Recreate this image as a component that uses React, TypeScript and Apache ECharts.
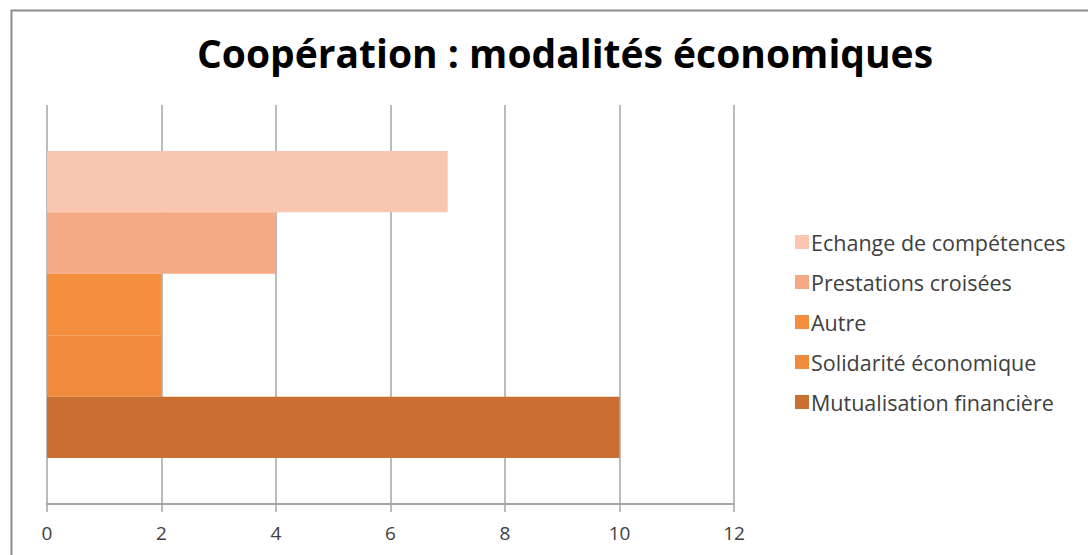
import React, { useEffect, useRef } from "react";
import * as echarts from "echarts";

const titleText = "Coopération : modalités économiques";
const seriesNames = [
  "Echange de compétences",
  "Prestations croisées",
  "Autre",
  "Solidarité économique",
  "Mutualisation financière",
];
const seriesValues = [7, 4, 2, 2, 10];
const seriesColors = ["#F9C6B1", "#F6A985", "#F48E3F", "#F08A3C", "#CB6F32"];
const categories = [""];
const axisMin = 0;
const axisMax = 12;
const axisInterval = 2;

const FONT = "'Open Sans', Lato, sans-serif";

export default function App() {
  const ref = useRef<HTMLDivElement>(null);
  useEffect(() => {
    if (!ref.current) return;
    const chart = echarts.init(ref.current, undefined, { renderer: "svg" });
    const gray = "#A6A6A6";
    chart.setOption({
      animation: false,
      backgroundColor: "#ffffff",
      title: {
        text: titleText,
        left: 560,
        top: 28,
        textAlign: "center",
        textStyle: { fontFamily: FONT, fontSize: 39, fontWeight: "bold", color: "#000000" },
      },
      legend: {
        orient: "vertical",
        left: 790,
        top: 226,
        itemWidth: 14,
        itemHeight: 14,
        itemGap: 18,
        icon: "rect",
        data: seriesNames,
        textStyle: { fontFamily: FONT, fontSize: 21.5, color: "#404040", lineHeight: 22, padding: [0, 0, 0, -3] },
      },
      grid: { left: 47, right: 354, top: 105, bottom: 51, containLabel: false },
      xAxis: {
        type: "value",
        min: axisMin,
        max: axisMax,
        interval: axisInterval,
        axisLine: { show: true, lineStyle: { color: gray, width: 2 } },
        axisTick: { show: true, length: 8, lineStyle: { color: gray, width: 1.5 } },
        splitLine: { show: true, lineStyle: { color: gray, width: 1.5 } },
        axisLabel: { fontFamily: FONT, fontSize: 19, color: "#404040", margin: 19 },
      },
      yAxis: {
        type: "category",
        data: categories,
        axisLine: { show: false },
        axisTick: { show: false },
        axisLabel: { show: false },
      },
      series: seriesNames.map((name, i) => ({
        name,
        type: "bar",
        data: [seriesValues[i]],
        barGap: "0%",
        barCategoryGap: "23%",
        itemStyle: { color: seriesColors[i] },
      })),
      graphic: [
        {
          type: "rect",
          shape: { x: 11.5, y: 10.5, width: 1200, height: 700 },
          style: { fill: "none", stroke: "#8C8C8C", lineWidth: 2 },
          silent: true,
        },
      ],
    });
    return () => chart.dispose();
  }, []);
  return (
    <div
      ref={ref}
      style={{ position: "fixed", left: 0, top: 0, width: 1088, height: 555 }}
    />
  );
}
